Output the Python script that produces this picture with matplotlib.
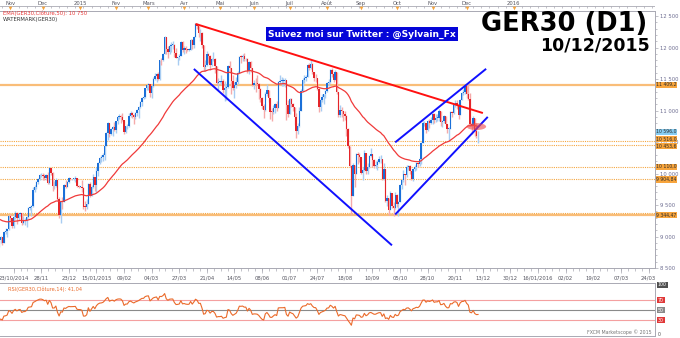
import numpy as np
import pandas as pd
import matplotlib
matplotlib.use('Agg')
import matplotlib.pyplot as plt
import matplotlib.transforms as mtransforms
from matplotlib.patches import Ellipse

# -----------------------------------------------------------------------
# Data (GER30 daily, 23/10/2014 -> 10/12/2015, every weekday)
# -----------------------------------------------------------------------
closes = [
    # Oct 2014
    8940, 8988, 8902, 9068, 9082, 9114, 9327,
    # Nov 2014
    9287, 9167, 9315, 9378, 9291, 9351, 9369, 9210, 9249, 9252,
    9306, 9456, 9472, 9483, 9732, 9785, 9861, 9915, 9974, 9980,
    # Dec 2014
    9963, 9934, 9971, 9851, 10087, 10014, 9799, 9800, 9903, 9594,
    9334, 9564, 9544, 9811, 9786, 9865, 9922, 9910, 9912, 9918,
    9927, 9806, 9790,
    # Jan 2015
    9790, 9764, 9473, 9470, 9518, 9837, 9648, 9781, 9941, 9817, 10032,
    10167, 10242, 10257, 10300, 10435, 10649, 10799, 10629, 10710, 10738, 10694,
    # Feb 2015
    10828, 10891, 10911, 10905, 10846, 10663, 10752, 10752, 10919, 10963,
    10924, 10896, 10961, 11001, 11050, 11131, 11205, 11211, 11352, 11401,
    # Mar 2015
    11418, 11281, 11390, 11504, 11551, 11582, 11500, 11805, 11799, 11901, 12167,
    11980, 11922, 12019, 12039, 12040, 11915, 11836, 11844, 11868, 12086, 11967,
    # Apr 2015
    11990, 11968, 11960, 11965, 12123, 12035, 12166, 12375, 12338, 12227, 12232,
    12039, 11689, 11718, 11896, 11867, 11723, 11811, 11811, 11700, 11432, 11454,
    # May 2015
    11454, 11468, 11327, 11351, 11367, 11709, 11673, 11472, 11350, 11400, 11447,
    11594, 11854, 11849, 11864, 11815, 11815, 11625, 11771, 11672, 11413,
    # Jun 2015
    11437, 11433, 11419, 11340, 11197, 11064, 11001, 11265, 11333, 11197, 10984,
    10979, 11045, 11100, 11040, 11460, 11471, 11472, 11473, 11492, 11083, 10945,
    # Jul 2015
    11180, 11100, 11058, 10890, 10676, 10747, 10997, 11316, 11484, 11517, 11539, 11717,
    11673, 11735, 11604, 11520, 11512, 11347, 11056, 11173, 11212, 11257, 11308,
    # Aug 2015
    11444, 11456, 11636, 11585, 11490, 11604, 11293, 10924, 11014, 10985, 10940,
    10915, 10710, 10432, 10124, 9648, 10128, 9997, 10315, 10298, 10259,
    # Sep 2015
    10015, 10048, 10318, 10038, 10108, 10271, 10303, 10210, 10123, 10131, 10188,
    10227, 10229, 9916, 10066, 9571, 9612, 9428, 9688, 9483, 9450, 9660,
    # Oct 2015
    9509, 9553, 9814, 9902, 9994, 9970, 10096, 10119, 10032, 9915, 10064,
    10104, 10164, 10147, 10238, 10491, 10795, 10801, 10692, 10831, 10801, 10850,
    # Nov 2015
    10951, 10845, 10887, 10887, 10988, 10815, 10832, 10907, 10782, 10708, 10713,
    10971, 10959, 11085, 11119, 11092, 10933, 11170, 11284, 11293, 11382,
    # Dec 2015
    11261, 11190, 10789, 10752, 10886, 10673, 10592, 10598,
]
highs = [
    9010, 9010, 9000, 9080, 9130, 9120, 9340,
    9360, 9300, 9350, 9400, 9390, 9360, 9390, 9380, 9330, 9300,
    9320, 9470, 9490, 9500, 9780, 9820, 9880, 9930, 9990, 10010,
    10010, 9990, 10000, 10020, 10100, 10090, 10020, 9880, 9930, 9900,
    9620, 9570, 9620, 9830, 9890, 9880, 9940, 9930, 9920, 9930,
    9960, 9930, 9820,
    9800, 9900, 9780, 9560, 9590, 9850, 9870, 9820, 9990, 9950, 10100,
    10190, 10270, 10300, 10320, 10480, 10660, 10810, 10800, 10730, 10760, 10810,
    10840, 10910, 10950, 10930, 10960, 10850, 10760, 10790, 10960, 10990,
    10970, 10950, 10980, 11020, 11070, 11150, 11210, 11250, 11360, 11410,
    11440, 11420, 11400, 11540, 11600, 11590, 11610, 11810, 11840, 11920, 12180,
    12170, 12020, 12060, 12080, 12100, 12050, 11990, 11850, 11900, 12100, 12100,
    12030, 12030, 11980, 11990, 12140, 12130, 12180, 12390, 12390, 12340, 12300,
    12240, 12040, 11810, 11950, 11920, 11880, 11830, 11930, 11830, 11700, 11520,
    11470, 11560, 11500, 11470, 11420, 11730, 11780, 11680, 11560, 11460, 11540,
    11620, 11870, 11880, 11900, 11920, 11830, 11840, 11780, 11780, 11680,
    11490, 11520, 11560, 11440, 11350, 11210, 11100, 11300, 11420, 11330, 11190,
    11040, 11090, 11120, 11150, 11470, 11560, 11530, 11510, 11520, 11492, 11160,
    11200, 11200, 11120, 11060, 10960, 10800, 11050, 11340, 11520, 11560, 11560, 11740,
    11760, 11800, 11750, 11610, 11580, 11520, 11350, 11190, 11260, 11270, 11330,
    11460, 11500, 11660, 11670, 11600, 11640, 11610, 11300, 11080, 11060, 11000,
    11000, 10930, 10720, 10440, 10130, 10160, 10130, 10330, 10340, 10330,
    10260, 10100, 10380, 10320, 10160, 10290, 10410, 10310, 10230, 10200, 10220,
    10280, 10290, 10200, 10170, 10070, 9660, 9610, 9730, 9690, 9550, 9700,
    9680, 9570, 9830, 9920, 10050, 10000, 10140, 10140, 10130, 10040, 10080,
    10140, 10180, 10190, 10260, 10500, 10830, 10840, 10800, 10850, 10860, 10890,
    10960, 10960, 10940, 10950, 11020, 10990, 10850, 10930, 10920, 10790, 10740,
    10990, 11000, 11120, 11160, 11170, 11100, 11190, 11300, 11340, 11410,
    11400, 11430, 11280, 10830, 10920, 10880, 10800, 10680,
]
lows = [
    8830, 8900, 8860, 8890, 9040, 8990, 9110,
    9250, 9130, 9140, 9280, 9200, 9260, 9320, 9180, 9200, 9190,
    9150, 9290, 9420, 9330, 9470, 9700, 9760, 9840, 9900, 9940,
    9900, 9890, 9900, 9830, 9840, 9970, 9720, 9760, 9790, 9580,
    9300, 9220, 9440, 9540, 9770, 9780, 9850, 9890, 9900, 9900,
    9860, 9790, 9770,
    9780, 9700, 9440, 9400, 9440, 9510, 9620, 9640, 9770, 9720, 9700,
    9960, 10150, 10190, 10200, 10220, 10430, 10530, 10580, 10610, 10600, 10680,
    10650, 10780, 10860, 10800, 10830, 10620, 10650, 10700, 10740, 10900,
    10880, 10790, 10870, 10920, 10880, 11040, 11070, 11180, 11200, 11330,
    11320, 11210, 11200, 11370, 11480, 11460, 11480, 11490, 11730, 11780, 11900,
    11900, 11840, 11900, 11930, 11980, 11850, 11830, 11720, 11800, 11860, 11930,
    11900, 11920, 11940, 11940, 11960, 11980, 12000, 12160, 12300, 12160, 12100,
    11990, 11620, 11620, 11700, 11760, 11640, 11700, 11790, 11600, 11400, 11330,
    11440, 11400, 11280, 11150, 11160, 11360, 11600, 11270, 11320, 11200, 11360,
    11420, 11590, 11760, 11780, 11780, 11780, 11600, 11580, 11610, 11390,
    11340, 11300, 11400, 11190, 11140, 11030, 10880, 10990, 11230, 11130, 10870,
    10830, 10940, 10960, 10990, 11040, 11420, 11390, 11390, 11370, 10850, 10900,
    10940, 11050, 10990, 10770, 10560, 10630, 10740, 10990, 11300, 11440, 11470, 11530,
    11640, 11660, 11580, 11470, 11450, 11320, 10970, 11000, 11140, 11110, 11200,
    11300, 11390, 11440, 11540, 11450, 11480, 11260, 10890, 10900, 10900, 10840,
    10850, 10600, 10400, 10110, 9338, 9640, 9780, 9990, 10150, 10190,
    9990, 9900, 10040, 9990, 10000, 10090, 10260, 10100, 10080, 10080, 10060,
    10160, 10170, 9900, 9900, 9550, 9480, 9340, 9420, 9460, 9325, 9440,
    9470, 9330, 9550, 9750, 9870, 9820, 9950, 10060, 10000, 9890, 9880,
    10040, 10060, 10100, 10120, 10150, 10480, 10760, 10650, 10680, 10730, 10790,
    10780, 10800, 10810, 10840, 10840, 10760, 10740, 10800, 10770, 10650, 10540,
    10700, 10890, 10950, 11060, 11030, 10860, 10930, 11160, 11250, 11260,
    11200, 11160, 10750, 10620, 10720, 10600, 10560, 10480,
]
first_open = 8890
# closes before the first bar, only used to warm up the RSI
pre_closes = [9662, 9510, 9490, 9422, 9474, 9382, 9195, 9195, 9209, 9086,
              9005, 9005, 8788, 8812, 8825, 8572, 8582, 8850, 8717, 8886, 8890]
ema_seed = 9290

# support / resistance levels and their tags
levels_solid = [11409.2, 9344.47]
levels_dotted = [10516.0, 10453.6, 10110.0, 9905.0, 9378.0]
tag_labels = ['11 409,2', '10 596,0', '10 516,0', '10 453,6', '10 110,0', '9 904,84', '9 344,47']
tag_kinds = ['lvl', 'last', 'lvl', 'lvl', 'lvl', 'lvl', 'lvl']
# tags are stacked where they would collide, so each sits at its own price
tag_at = [11409.2, 10665.0, 10550.0, 10435.0, 10110.0, 9905.0, 9344.47]

# hand-drawn lines (date, price)
red_trend = (['2015-04-10', '2015-12-13'], [12375, 10960])
blue_down = (['2015-04-09', '2015-09-28'], [11660, 8860])
chan_low = (['2015-09-30', '2015-12-16'], [9350, 10899])
chan_up = (['2015-09-30', '2015-12-15'], [10495, 11662])
circle_at = ('2015-12-09', 10745)

month_starts = ['2014-11-01', '2014-12-01', '2015-01-01', '2015-02-01', '2015-03-01',
                '2015-04-01', '2015-05-01', '2015-06-01', '2015-07-01', '2015-08-01',
                '2015-09-01', '2015-10-01', '2015-11-01', '2015-12-01', '2016-01-01']
month_names = ['Nov', 'Dec', '2015', 'Fev', 'Mars', 'Avr', 'Mai', 'Juin', 'Juil',
               'Août', 'Sep', 'Oct', 'Nov', 'Dec', '2016']
date_labels = ['23/10/2014', '28/11', '23/12', '15/01/2015', '09/02', '04/03', '27/03',
               '21/04', '14/05', '08/06', '01/07', '24/07', '18/08', '10/09', '05/10',
               '28/10', '20/11', '13/12', '30/12', '16/01/2016', '02/02', '19/02',
               '07/03', '24/03']

dates = pd.bdate_range('2014-10-23', '2015-12-10')
assert len(dates) == len(closes) == len(highs) == len(lows)


def pos(d):
    # bar index: trading days in the past, calendar days after the last bar
    d = pd.Timestamp(d)
    if d <= dates[-1]:
        return int(dates.searchsorted(d))
    return len(dates) + (d - dates[-1]).days - 1


# -----------------------------------------------------------------------
# Indicators
# -----------------------------------------------------------------------
c = np.array(closes, dtype=float)
o = np.array([first_open] + closes[:-1], dtype=float)
h = np.maximum(np.array(highs, dtype=float), np.maximum(o, c))
l = np.minimum(np.array(lows, dtype=float), np.minimum(o, c))
x = np.arange(len(c))

ema = pd.Series([ema_seed] + closes, dtype=float).ewm(span=50, adjust=False).mean().values[1:]

allc = pd.Series(pre_closes + closes, dtype=float)
delta = allc.diff()
gain = delta.clip(lower=0).ewm(alpha=1 / 14, adjust=False).mean()
loss = (-delta.clip(upper=0)).ewm(alpha=1 / 14, adjust=False).mean()
rsi = (100 - 100 / (1 + gain / loss)).values[len(pre_closes):]

# -----------------------------------------------------------------------
# Figure
# -----------------------------------------------------------------------
W, H = 680, 338
fig = plt.figure(figsize=(W / 100, H / 100), dpi=100)
fig.patch.set_facecolor('white')


def px_axes(x0, y0, x1, y1):
    return fig.add_axes([x0 / W, 1 - y1 / H, (x1 - x0) / W, (y1 - y0) / H])


XL = (0.6, 404.0)
ax = px_axes(0, 11, 655, 268)
ax_top = px_axes(0, 0, 655, 11)
ax_bot = px_axes(0, 268, 655, 283)
ax_rsi = px_axes(0, 283, 655, 336)

UP, UP_W = '#1a6fd8', '#a8ccf2'
DN, DN_W = '#e4252a', '#f5aaaa'
ORANGE = '#f7a43c'
GRID = '#a9a9b3'

# --- price panel ---
ax.set_xlim(*XL)
ax.set_ylim(8540, 12580)

for v in levels_solid:
    ax.axhline(v, color='#f9bd78', lw=1.6, zorder=1)
for v in levels_dotted:
    ax.axhline(v, color='#f5a640', lw=0.8, ls=(0, (1, 1)), zorder=1)

up = c >= o
for mask, body, wick in [(up, UP, UP_W), (~up, DN, DN_W)]:
    ax.vlines(x[mask], l[mask], h[mask], colors=wick, lw=1.0, zorder=2)
    ax.bar(x[mask], np.maximum(np.abs(c - o)[mask], 10), bottom=np.minimum(o, c)[mask],
           width=0.85, color=body, lw=0, zorder=3)

ax.plot(x, ema, color='#f03a3a', lw=0.9, zorder=4)


def line(spec, color):
    ds, ps = spec
    ax.plot([pos(d) for d in ds], ps, color=color, lw=1.4, zorder=5,
            solid_capstyle='butt')


line(red_trend, '#ff1010')
line(blue_down, '#1010ff')
line(chan_low, '#1010ff')
line(chan_up, '#1010ff')
ax.add_patch(Ellipse((pos(circle_at[0]), circle_at[1]), 12, 110,
                     color='#f04848', alpha=0.6, lw=0, zorder=6))

ax.yaxis.tick_right()
ax.set_yticks(np.arange(8500, 12501, 500))
ax.set_yticks(np.arange(8500, 12600, 100), minor=True)
ax.set_yticklabels([f"{v:,}".replace(',', ' ') for v in range(8500, 12501, 500)])
ax.tick_params(axis='y', which='major', labelsize=3.8, labelcolor='#6c6c90',
               color=GRID, length=2.5, width=0.5, pad=0.8)
ax.tick_params(axis='y', which='minor', color=GRID, length=1.3, width=0.5)
ax.set_xticks([])
for side in ['top', 'right', 'bottom']:
    ax.spines[side].set_color(GRID)
    ax.spines[side].set_linewidth(0.7)
ax.spines['left'].set_visible(False)

# right-hand price tags
blend = mtransforms.blended_transform_factory(ax.transAxes, ax.transData)
for v, lab, kind in zip(tag_at, tag_labels, tag_kinds):
    fc = '#86cdf2' if kind == 'last' else ORANGE
    ax.text(1.002, v, lab, transform=blend, fontsize=3.3, color='#2a2a2a',
            va='center', ha='left', clip_on=False, zorder=10,
            bbox=dict(boxstyle='square,pad=0.12', fc=fc, ec='none'))

# --- top month ruler ---
ax_top.set_xlim(*XL)
ax_top.set_ylim(11, 0)
ax_top.axis('off')
ax_top.plot(XL, [6.3, 6.3], color=GRID, lw=0.6)
ax_top.vlines(np.arange(2, 404, 5), 6.3, 8.0, color=GRID, lw=0.5)
mpos = [pos(d) for d in month_starts]
ax_top.scatter(mpos, [7.6] * len(mpos), marker='v', s=7, color=ORANGE, lw=0, zorder=3)
for p, name in zip(mpos, month_names):
    ax_top.text(p, 3.2, name, fontsize=3.8, color='#555560', ha='center', va='center')

# --- bottom date ruler ---
ax_bot.set_xlim(*XL)
ax_bot.set_ylim(283, 268)
ax_bot.axis('off')
lab_pos = 9 + 17 * np.arange(len(date_labels))
ax_bot.vlines(np.arange(9, 404, 17 / 4), 268, 270.5, color=GRID, lw=0.5)
ax_bot.vlines(lab_pos, 268, 272.5, color=GRID, lw=0.5)
for p, lab in zip(lab_pos, date_labels):
    ax_bot.text(p, 277.8, lab, fontsize=3.8, color='#555560', ha='center', va='center')

# --- RSI panel ---
ax_rsi.set_xlim(*XL)
ax_rsi.set_ylim(-2, 104)
ax_rsi.axhline(70, color='#f4a0a0', lw=0.8)
ax_rsi.axhline(30, color='#f4a0a0', lw=0.8)
ax_rsi.axhline(50, color='#8a8a8a', lw=0.8)
ax_rsi.plot(x, rsi, color='#ea6a2a', lw=0.8)
ax_rsi.set_xticks([])
ax_rsi.set_yticks([])
for side in ['top', 'right', 'bottom']:
    ax_rsi.spines[side].set_color(GRID)
    ax_rsi.spines[side].set_linewidth(0.7)
ax_rsi.spines['left'].set_visible(False)
rblend = mtransforms.blended_transform_factory(ax_rsi.transAxes, ax_rsi.transData)
for v, fc, tc in [(100, '#505050', 'white'), (70, '#e03838', 'white'),
                  (50, '#8a8a8a', 'white'), (30, '#e03838', 'white'), (0, 'none', '#555')]:
    ax_rsi.text(1.004, v, str(v), transform=rblend, fontsize=3.4, color=tc,
                va='center', ha='left', clip_on=False,
                bbox=dict(boxstyle='square,pad=0.2', fc=fc, ec='none'))
ax_rsi.text(0.012, 0.94, f"RSI(GER30,Clôture,14): {rsi[-1]:.2f}".replace('.', ','),
            transform=ax_rsi.transAxes, fontsize=3.6, color='#ea6a2a', va='top')
ax_rsi.text(0.995, 0.02, 'FXCM Marketscope © 2015', transform=ax_rsi.transAxes,
            fontsize=3.4, color='#777777', ha='right', va='bottom')

# --- annotations ---
fig.text(3 / W, 1 - 13 / H, 'EMA(GER30,Clôture,50): 10 750', fontsize=3.8,
         color='#e83a3a', va='center')
fig.text(3 / W, 1 - 19 / H, 'WATERMARK(GER30)', fontsize=3.8, color='#333333', va='center')
fig.text(362 / W, 1 - 34 / H, 'Suivez moi sur Twitter : @Sylvain_Fx', fontsize=6.6,
         color='white', fontweight='bold', ha='center', va='center',
         bbox=dict(boxstyle='square,pad=0.25', fc='#0505d8', ec='none'))
fig.text(647 / W, 1 - 24 / H, 'GER30 (D1)', fontsize=18.5, fontweight='bold',
         color='black', ha='right', va='center')
fig.text(650 / W, 1 - 45 / H, '10/12/2015', fontsize=12.5, fontweight='bold',
         color='black', ha='right', va='center')

fig.savefig('out.png', dpi=100, facecolor='white')
